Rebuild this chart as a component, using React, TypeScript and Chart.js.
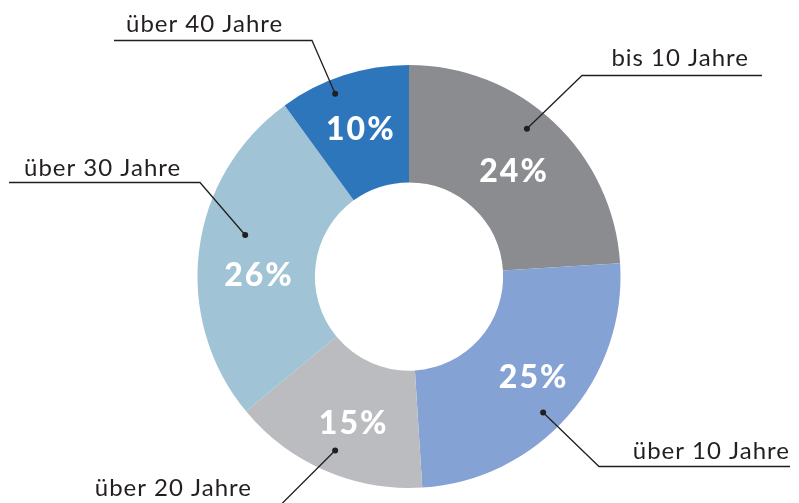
import React, { useEffect, useRef } from "react";
import { Chart, registerables } from "chart.js";

Chart.register(...registerables);

const categories = ["bis 10 Jahre", "über 10 Jahre", "über 20 Jahre", "über 30 Jahre", "über 40 Jahre"];
const shares = [24, 25, 15, 26, 10];
const sliceColors = ["#8b8c90", "#85a2d4", "#bbbcc0", "#a0c4d6", "#2e76bc"];
const shareLabels = shares.map((v) => v + "%");

// percent label placement: [angle offset from slice middle (deg), radius]
const pctPlacement: [number, number][] = [
  [1.5, 148],
  [-2, 160],
  [-2.5, 158],
  [-7, 151],
  [-0.5, 155],
];

// callout layout relative to chart centre
type Callout = {
  dot: [number, number];
  elbow: [number, number];
  endX: number;
  text: [number, number, CanvasTextAlign];
};
const callouts: Callout[] = [
  { dot: [-4.6, 189], elbow: [173, -201], endX: 353, text: [340, -218, "right"] },
  { dot: [4, 191], elbow: [190, 190], endX: 381, text: [381, 175, "right"] },
  { dot: [-0.4, 189], elbow: [-140, 240], endX: -300, text: [-157, 212, "right"] },
  { dot: [7, 169], elbow: [-209, -94], endX: -400, text: [-385, -108, "left"] },
  { dot: [-4, 197], elbow: [-97, -236], endX: -295, text: [-283, -252, "left"] },
];

const labelPlugin = {
  id: "donutLabels",
  afterDatasetsDraw(chart: any) {
    const ctx: CanvasRenderingContext2D = chart.ctx;
    const meta = chart.getDatasetMeta(0);
    ctx.save();
    meta.data.forEach((arc: any, i: number) => {
      const { x, y, startAngle, endAngle } = arc.getProps(["x", "y", "startAngle", "endAngle"], true);
      const mid = (startAngle + endAngle) / 2;
      const [po, pr] = pctPlacement[i];
      const pa = mid + (po * Math.PI) / 180;
      ctx.fillStyle = "#ffffff";
      ctx.font = "900 32px Lato";
      (ctx as any).letterSpacing = "2px";
      ctx.textAlign = "center";
      ctx.textBaseline = "middle";
      ctx.fillText(shareLabels[i], x + pr * Math.cos(pa) + 1, y + pr * Math.sin(pa));

      const c = callouts[i];
      const da = mid + (c.dot[0] * Math.PI) / 180;
      const dx = x + c.dot[1] * Math.cos(da);
      const dy = y + c.dot[1] * Math.sin(da);
      const ex = x + c.elbow[0];
      const ey = y + c.elbow[1];
      ctx.strokeStyle = "#231f20";
      ctx.lineWidth = 1.3;
      ctx.beginPath();
      ctx.moveTo(dx, dy);
      ctx.lineTo(ex, ey);
      ctx.lineTo(x + c.endX, ey);
      ctx.stroke();
      ctx.fillStyle = "#231f20";
      ctx.beginPath();
      ctx.arc(dx, dy, 3, 0, Math.PI * 2);
      ctx.fill();

      ctx.font = "400 24px Lato";
      (ctx as any).letterSpacing = "1px";
      ctx.textAlign = c.text[2];
      ctx.textBaseline = "middle";
      ctx.fillStyle = "#231f20";
      ctx.fillText(categories[i], x + c.text[0], y + c.text[1]);
      (ctx as any).letterSpacing = "0px";
    });
    ctx.restore();
  },
};

export default function App() {
  const canvasRef = useRef<HTMLCanvasElement | null>(null);

  useEffect(() => {
    const canvas = canvasRef.current;
    if (!canvas) return;
    const chart = new Chart(canvas, {
      type: "doughnut",
      data: {
        labels: categories,
        datasets: [
          {
            data: shares,
            backgroundColor: sliceColors,
            borderWidth: 0,
          },
        ],
      },
      options: {
        responsive: false,
        animation: false,
        cutout: "44.5%",
        layout: { padding: { left: 197, right: 178, top: 65, bottom: 15 } },
        plugins: {
          legend: { display: false },
          tooltip: { enabled: false },
        },
      },
      plugins: [labelPlugin],
    });
    return () => chart.destroy();
  }, []);

  return (
    <div style={{ position: "fixed", left: 0, top: 0, width: 799, height: 503, background: "#ffffff" }}>
      <canvas ref={canvasRef} width={799} height={503} style={{ display: "block" }} />
    </div>
  );
}
